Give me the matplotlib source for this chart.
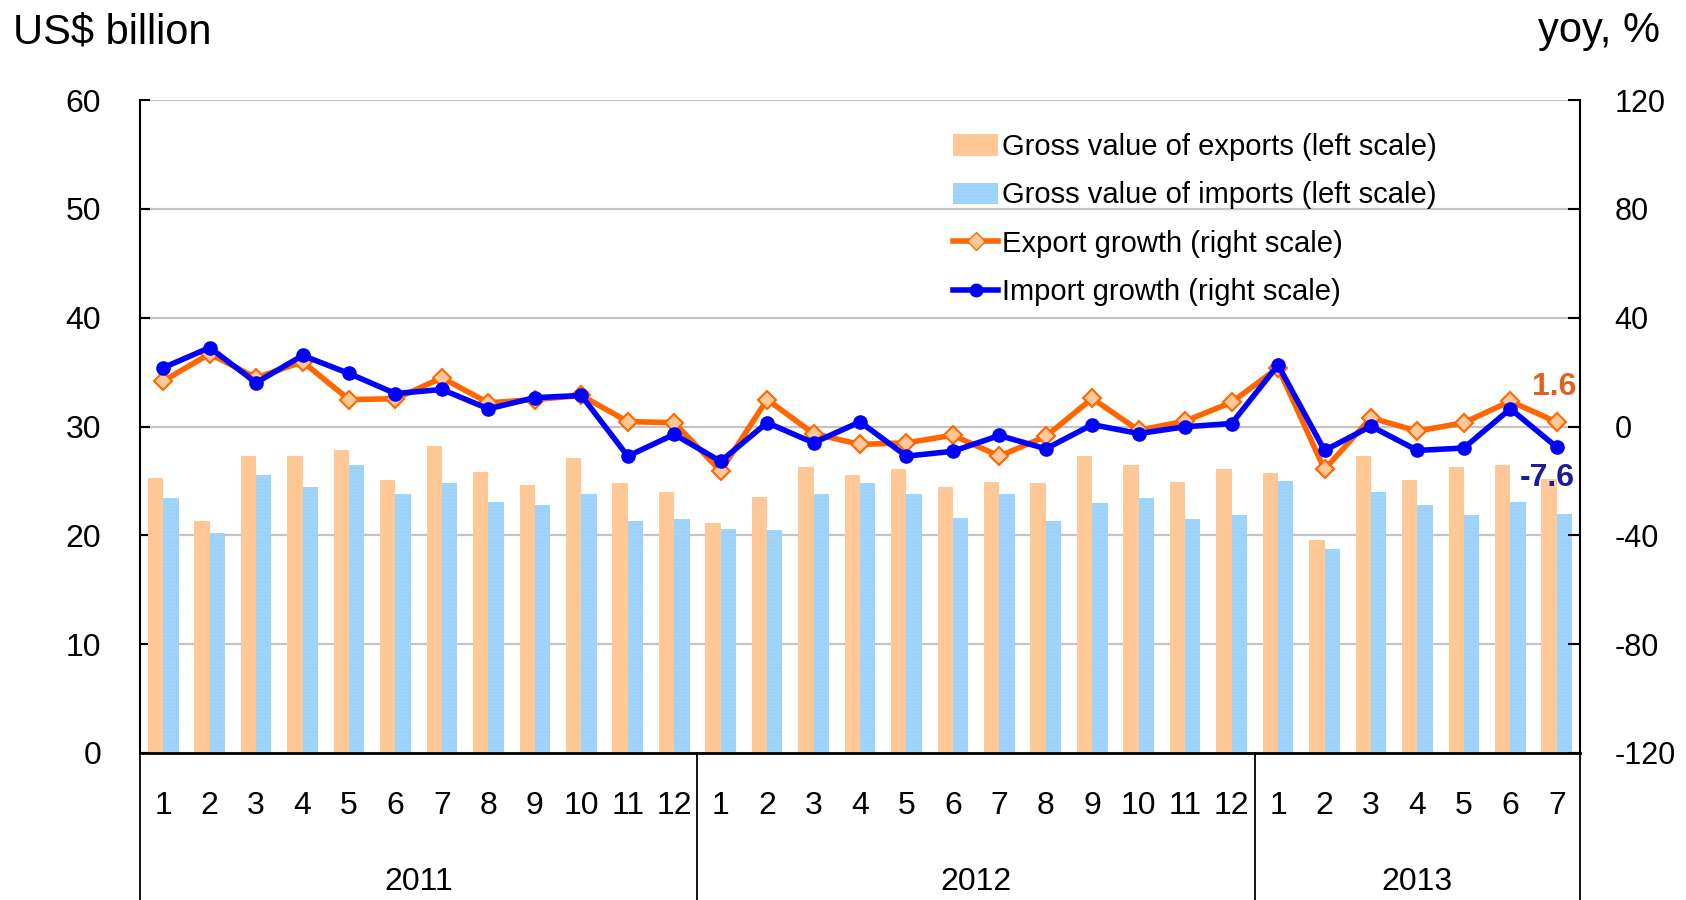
import matplotlib
matplotlib.use("Agg")
import matplotlib.pyplot as plt
from matplotlib.patches import Patch
from matplotlib.lines import Line2D
import numpy as np

plt.rcParams['font.family'] = ['Liberation Sans', 'DejaVu Sans']
plt.rcParams['hatch.linewidth'] = 0.9
plt.rcParams['axes.unicode_minus'] = False

# monthly data, 2011-01 .. 2013-07
months = [str(m) for m in range(1, 13)] * 2 + [str(m) for m in range(1, 8)]
years = ["2011", "2012", "2013"]
year_len = [12, 12, 7]

exports = [25.3, 21.3, 27.3, 27.3, 27.8, 25.1, 28.2, 25.8, 24.6, 27.1, 24.8, 24.0,
           21.1, 23.5, 26.3, 25.5, 26.1, 24.4, 24.9, 24.8, 27.3, 26.5, 24.9, 26.1,
           25.7, 19.6, 27.3, 25.1, 26.3, 26.5, 25.2]
imports = [23.4, 20.2, 25.5, 24.4, 26.5, 23.8, 24.8, 23.1, 22.8, 23.8, 21.3, 21.5,
           20.6, 20.5, 23.8, 24.8, 23.8, 21.6, 23.8, 21.3, 23.0, 23.4, 21.5, 21.9,
           25.0, 18.7, 24.0, 22.8, 21.9, 23.1, 22.0]
export_growth = [16.7, 26.7, 17.9, 23.8, 9.9, 10.2, 17.9, 8.7, 9.9, 11.4, 1.8, 1.4,
                 -16.4, 9.9, -2.6, -6.6, -6.0, -3.2, -10.9, -3.6, 10.3, -1.4, 2.0, 8.9,
                 21.6, -15.8, 3.2, -1.7, 1.4, 9.3, 1.6]
import_growth = [21.6, 29.0, 16.1, 26.1, 19.5, 12.1, 13.6, 6.5, 10.6, 11.4, -10.9, -2.9,
                 -12.8, 1.4, -6.0, 1.7, -10.9, -9.1, -3.3, -8.2, 0.7, -2.6, -0.1, 1.1,
                 22.6, -8.8, 0.1, -8.8, -7.9, 6.5, -7.6]

EXP_BAR = "#FFC896"
IMP_BAR = "#CFEFFF"
IMP_HATCH = "#9AD0FA"
EXP_LINE = "#FF6600"
IMP_LINE = "#0000FF"
HATCH = "-" * 12

W, H = 1686, 900
fig = plt.figure(figsize=(W / 100, H / 100), dpi=100)
ax = fig.add_axes([140 / W, 1 - 753 / H, (1580 - 140) / W, (753 - 100) / H])
ax2 = ax.twinx()

x = np.arange(len(months))
bw = 0.33
ax.bar(x - bw / 2, exports, bw, color=EXP_BAR, linewidth=0, zorder=2)
ax.bar(x + bw / 2, imports, bw, color=IMP_BAR, edgecolor=IMP_HATCH, hatch=HATCH,
       linewidth=0, zorder=2)

ax.set_xlim(-0.5, len(months) - 0.5)
ax.set_ylim(0, 60)
ax.set_yticks(range(0, 61, 10))
ax.grid(axis="y", color="#C4C4C4", linewidth=1.6, zorder=0)
ax.set_axisbelow(True)
ax.set_xticks([])
ax.tick_params(axis="y", direction="in", length=7, width=1.5, labelsize=23, pad=28)
for s in ["top", "right"]:
    ax.spines[s].set_visible(False)
ax.spines["left"].set_linewidth(1.5)
ax.spines["bottom"].set_linewidth(2)

ax2.plot(x, export_growth, color=EXP_LINE, lw=4, marker="D", ms=9,
         mfc=EXP_BAR, mec=EXP_LINE, mew=1.5, zorder=3)
ax2.plot(x, import_growth, color=IMP_LINE, lw=4, marker="o", ms=9.5,
         mfc=IMP_LINE, mec=IMP_LINE, zorder=4)
ax2.set_ylim(-120, 120)
ax2.set_yticks(range(-120, 121, 40))
ax2.tick_params(axis="y", direction="in", length=8.5, width=1.5, labelsize=22, pad=25)
for s in ["top", "left", "bottom"]:
    ax2.spines[s].set_visible(False)
ax2.spines["right"].set_linewidth(1.5)

# end-of-series labels
ax2.annotate(f"{export_growth[-1]:.1f}", (x[-1], export_growth[-1]), xytext=(-2, 25),
             textcoords="offset points", ha="center", va="center",
             fontsize=23, fontweight="bold", color="#E2611C")
ax2.annotate(f"{import_growth[-1]:.1f}", (x[-1], import_growth[-1]), xytext=(-7, -22),
             textcoords="offset points", ha="center", va="center",
             fontsize=23, fontweight="bold", color="#1C1C96")

# two-level category axis
tr = ax.get_xaxis_transform()
for i, m in enumerate(months):
    ax.text(i, -0.081, m, transform=tr, ha="center", va="center", fontsize=23)
start = 0
for yr, n in zip(years, year_len):
    ax.text(start + n / 2 - 0.5, -0.198, yr, transform=tr, ha="center", va="center",
            fontsize=23)
    start += n
for b in [-0.5, 11.5, 23.5, len(months) - 0.5]:
    ax.plot([b, b], [0, -0.3], transform=tr, color="black", lw=1.3, clip_on=False)

fig.text(13 / W, 1 - 33 / H, "US$ billion", fontsize=30, ha="left", va="center")
fig.text(1660 / W, 1 - 31 / H, "yoy, %", fontsize=30, ha="right", va="center")

handles = [
    Patch(facecolor=EXP_BAR, linewidth=0),
    Patch(facecolor=IMP_BAR, edgecolor=IMP_HATCH, hatch=HATCH, linewidth=0),
    Line2D([], [], color=EXP_LINE, lw=4, marker="D", ms=9, mfc=EXP_BAR, mec=EXP_LINE),
    Line2D([], [], color=IMP_LINE, lw=4, marker="o", ms=9, mfc=IMP_LINE),
]
labels = ["Gross value of exports (left scale)", "Gross value of imports (left scale)",
          "Export growth (right scale)", "Import growth (right scale)"]
ax2.legend(handles, labels, loc="upper left", bbox_to_anchor=(953 / W, 1 - 133 / H),
           bbox_transform=fig.transFigure, frameon=False, fontsize=21,
           handlelength=1.55, handleheight=0.75, handletextpad=0.12, labelspacing=0.7,
           borderpad=0, borderaxespad=0)

fig.savefig("out.png", dpi=100)
